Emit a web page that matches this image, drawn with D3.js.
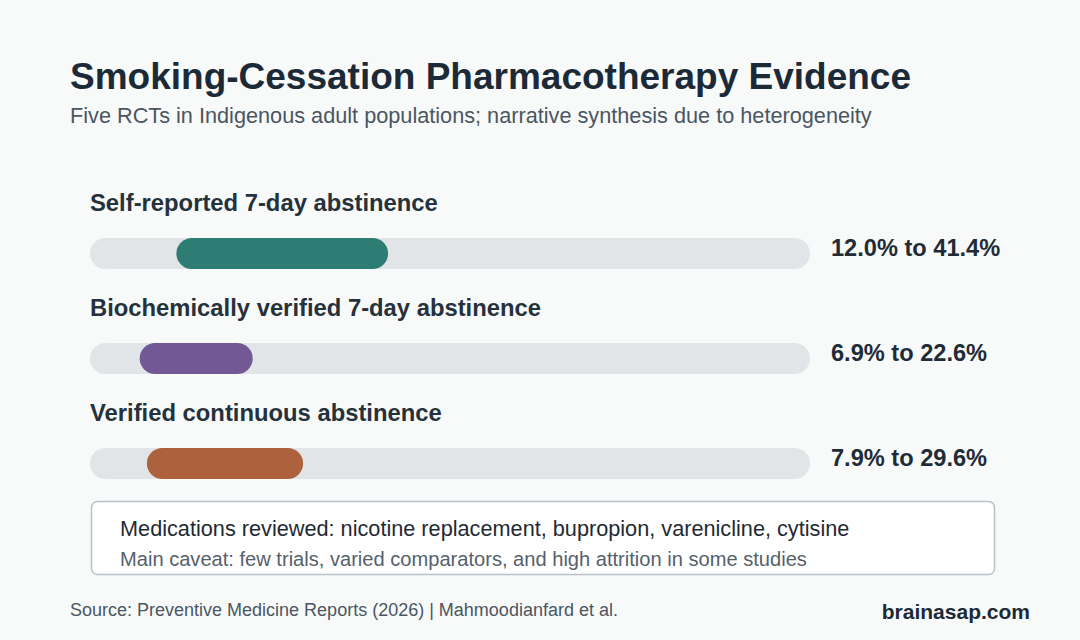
<!DOCTYPE html>
<html>
<head>
<meta charset="utf-8">
<script src="https://cdn.jsdelivr.net/npm/d3@7"></script>
<style>
  html, body { margin: 0; padding: 0; background: #f8fafa; }
  svg { display: block; font-family: "Liberation Sans", Arial, sans-serif; }
</style>
</head>
<body>
<div id="chart"></div>
<script>
const outcomes = [
  "Self-reported 7-day abstinence",
  "Biochemically verified 7-day abstinence",
  "Verified continuous abstinence"
];
const lowValues = [12.0, 6.9, 7.9];
const highValues = [41.4, 22.6, 29.6];
const barColors = ["#2e7d74", "#725995", "#ad613c"];
const noteLines = [
  "Medications reviewed: nicotine replacement, bupropion, varenicline, cytisine",
  "Main caveat: few trials, varied comparators, and high attrition in some studies"
];

const WIDTH = 1080, HEIGHT = 640;
const TRACK_H = 31;

const svg = d3.select("#chart")
  .append("svg")
  .attr("width", WIDTH)
  .attr("height", HEIGHT);

svg.append("rect")
  .attr("width", WIDTH)
  .attr("height", HEIGHT)
  .attr("fill", "#f8fafa");

svg.append("text")
  .attr("x", 70).attr("y", 89)
  .attr("font-size", 37).attr("font-weight", "bold")
  .attr("fill", "#1c2a38")
  .text("Smoking-Cessation Pharmacotherapy Evidence");

svg.append("text")
  .attr("x", 70).attr("y", 123)
  .attr("font-size", 21.7)
  .attr("fill", "#4a5662")
  .text("Five RCTs in Indigenous adult populations; narrative synthesis due to heterogeneity");

const data = outcomes.map((name, i) => ({
  name, low: lowValues[i], high: highValues[i], color: barColors[i]
}));

const x = d3.scaleLinear().domain([0, 100]).range([90, 810]);
const y = d3.scaleBand().domain(outcomes).range([180, 495]).paddingInner(0).paddingOuter(0);

const rows = svg.selectAll("g.row")
  .data(data)
  .enter()
  .append("g")
  .attr("class", "row")
  .attr("transform", (d) => `translate(0,${y(d.name)})`);

rows.append("text")
  .attr("x", 90).attr("y", 31)
  .attr("font-size", 23.8).attr("font-weight", "bold")
  .attr("fill", "#25313b")
  .text((d) => d.name);

rows.append("rect")
  .attr("x", x(0)).attr("y", 58)
  .attr("width", x(100) - x(0)).attr("height", TRACK_H)
  .attr("rx", TRACK_H / 2)
  .attr("fill", "#e1e5e8");

rows.append("rect")
  .attr("x", (d) => x(d.low)).attr("y", 58)
  .attr("width", (d) => x(d.high) - x(d.low)).attr("height", TRACK_H)
  .attr("rx", TRACK_H / 2)
  .attr("fill", (d) => d.color);

rows.append("text")
  .attr("x", 831).attr("y", 76)
  .attr("font-size", 23.6).attr("font-weight", "bold")
  .attr("fill", "#1f2b36")
  .text((d) => `${d.low.toFixed(1)}% to ${d.high.toFixed(1)}%`);

// note box
svg.append("rect")
  .attr("x", 91.5).attr("y", 501.5)
  .attr("width", 903).attr("height", 73)
  .attr("rx", 6)
  .attr("fill", "#ffffff")
  .attr("stroke", "#b9c1c8")
  .attr("stroke-width", 1.5);

svg.append("text")
  .attr("x", 120).attr("y", 536)
  .attr("font-size", 21.7)
  .attr("fill", "#1f2a33")
  .text(noteLines[0]);

svg.append("text")
  .attr("x", 120).attr("y", 566)
  .attr("font-size", 20.1)
  .attr("fill", "#56616b")
  .text(noteLines[1]);

svg.append("text")
  .attr("x", 70).attr("y", 616)
  .attr("font-size", 18)
  .attr("fill", "#4a5662")
  .text("Source: Preventive Medicine Reports (2026) | Mahmoodianfard et al.");

svg.append("text")
  .attr("x", 1030).attr("y", 619)
  .attr("text-anchor", "end")
  .attr("font-size", 21)
  .attr("font-weight", "bold")
  .attr("fill", "#1c2a38")
  .text("brainasap.com");
</script>
</body>
</html>
